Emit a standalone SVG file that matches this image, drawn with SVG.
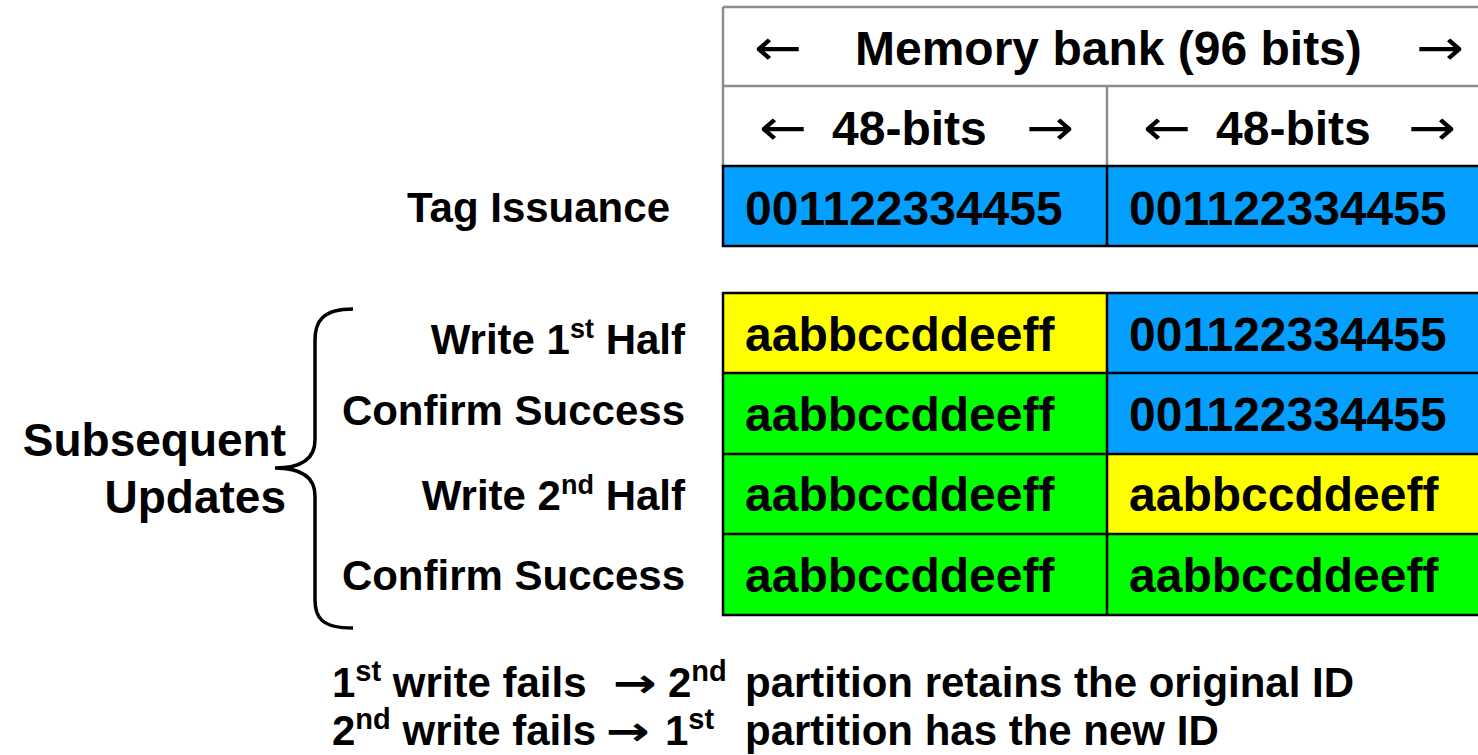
<svg xmlns="http://www.w3.org/2000/svg" width="1478" height="755" viewBox="0 0 1478 755">
<style>
.t{font-family:"Liberation Sans",Arial,sans-serif;font-weight:bold;fill:#000}
.c48{font-size:48px}
.l42{font-size:42px}
.s46{font-size:46px}
.ar{font-family:"DejaVu Sans",sans-serif;font-size:50px;fill:#000}
.arb{font-family:"DejaVu Sans",sans-serif;font-weight:bold;font-size:40px;fill:#000}
.g{stroke:#8c8c8c;stroke-width:2.5;fill:none}
.k{stroke:#000;stroke-width:2.5;fill:none}
.blue{fill:#05a0ff}
.yel{fill:#ffff00}
.grn{fill:#00ff00}
</style>
<rect width="1478" height="755" fill="#fff"/>

<g id="header">
  <rect x="723" y="7" width="770" height="159" fill="#fff"/>
  <line class="g" x1="723" y1="7" x2="1490" y2="7"/>
  <line class="g" x1="723" y1="86" x2="1490" y2="86"/>
  <line class="g" x1="723" y1="7" x2="723" y2="166"/>
  <line class="g" x1="1107" y1="86" x2="1107" y2="166"/>
  <text class="ar" x="754" y="65" textLength="48" lengthAdjust="spacingAndGlyphs">←</text>
  <text class="t c48" x="855" y="65">Memory bank (96 bits)</text>
  <text class="ar" x="1416" y="65" textLength="48" lengthAdjust="spacingAndGlyphs">→</text>
  <text class="ar" x="759" y="145" textLength="48" lengthAdjust="spacingAndGlyphs">←</text>
  <text class="t c48" x="832" y="145">48-bits</text>
  <text class="ar" x="1026" y="145" textLength="48" lengthAdjust="spacingAndGlyphs">→</text>
  <text class="ar" x="1143" y="145" textLength="48" lengthAdjust="spacingAndGlyphs">←</text>
  <text class="t c48" x="1216" y="145">48-bits</text>
  <text class="ar" x="1408" y="145" textLength="48" lengthAdjust="spacingAndGlyphs">→</text>
</g>

<g id="tag-issuance">
  <rect class="blue" x="723" y="166" width="770" height="80"/>
  <rect class="k" x="723" y="166" width="770" height="80"/>
  <line class="k" x1="1107" y1="166" x2="1107" y2="246"/>
  <text class="t c48" x="745" y="225">001122334455</text>
  <text class="t c48" x="1129" y="225">001122334455</text>
  <text class="t l42" x="670" y="222" text-anchor="end">Tag Issuance</text>
</g>

<g id="updates-table">
  <rect class="yel" x="723" y="293" width="384" height="80"/>
  <rect class="blue" x="1107" y="293" width="386" height="80"/>
  <rect class="grn" x="723" y="373" width="384" height="81"/>
  <rect class="blue" x="1107" y="373" width="386" height="81"/>
  <rect class="grn" x="723" y="454" width="384" height="80"/>
  <rect class="yel" x="1107" y="454" width="386" height="80"/>
  <rect class="grn" x="723" y="534" width="384" height="81"/>
  <rect class="grn" x="1107" y="534" width="386" height="81"/>
  <rect class="k" x="723" y="293" width="770" height="322"/>
  <line class="k" x1="723" y1="373" x2="1493" y2="373"/>
  <line class="k" x1="723" y1="454" x2="1493" y2="454"/>
  <line class="k" x1="723" y1="534" x2="1493" y2="534"/>
  <line class="k" x1="1107" y1="293" x2="1107" y2="615"/>
  <text class="t c48" x="745" y="351">aabbccddeeff</text>
  <text class="t c48" x="1129" y="351">001122334455</text>
  <text class="t c48" x="745" y="431">aabbccddeeff</text>
  <text class="t c48" x="1129" y="431">001122334455</text>
  <text class="t c48" x="745" y="511">aabbccddeeff</text>
  <text class="t c48" x="1129" y="511">aabbccddeeff</text>
  <text class="t c48" x="745" y="592">aabbccddeeff</text>
  <text class="t c48" x="1129" y="592">aabbccddeeff</text>
</g>

<g id="step-labels">
  <text class="t l42" x="685" y="354" text-anchor="end">Write 1<tspan font-size="27" dy="-16">st</tspan><tspan dy="16"> Half</tspan></text>
  <text class="t l42" x="685" y="425" text-anchor="end">Confirm Success</text>
  <text class="t l42" x="685" y="510" text-anchor="end">Write 2<tspan font-size="27" dy="-16">nd</tspan><tspan dy="16"> Half</tspan></text>
  <text class="t l42" x="685" y="590" text-anchor="end">Confirm Success</text>
</g>

<g id="subsequent-updates">
  <path d="M353,309 C322,309 315,322 315,340 L315,440 C315,460 300,468 275,468 C300,468 315,476 315,496 L315,600 C315,618 322,628 353,628" fill="none" stroke="#000" stroke-width="3.5"/>
  <text class="t s46" x="286" y="456" text-anchor="end">Subsequent</text>
  <text class="t s46" x="286" y="513" text-anchor="end">Updates</text>
</g>

<g id="notes">
  <text class="t l42" x="332" y="697">1<tspan font-size="29" dy="-16">st</tspan><tspan dy="16"> write fails</tspan></text>
  <text class="arb" x="613" y="697" textLength="44" lengthAdjust="spacingAndGlyphs">→</text>
  <text class="t l42" x="668" y="697">2<tspan font-size="29" dy="-16">nd</tspan></text>
  <text class="t l42" x="745" y="697">partition retains the original ID</text>
  <text class="t l42" x="332" y="745">2<tspan font-size="29" dy="-16">nd</tspan><tspan dy="16"> write fails</tspan></text>
  <text class="arb" x="606" y="745" textLength="44" lengthAdjust="spacingAndGlyphs">→</text>
  <text class="t l42" x="665" y="745">1<tspan font-size="29" dy="-16">st</tspan></text>
  <text class="t l42" x="745" y="745">partition has the new ID</text>
</g>
</svg>
